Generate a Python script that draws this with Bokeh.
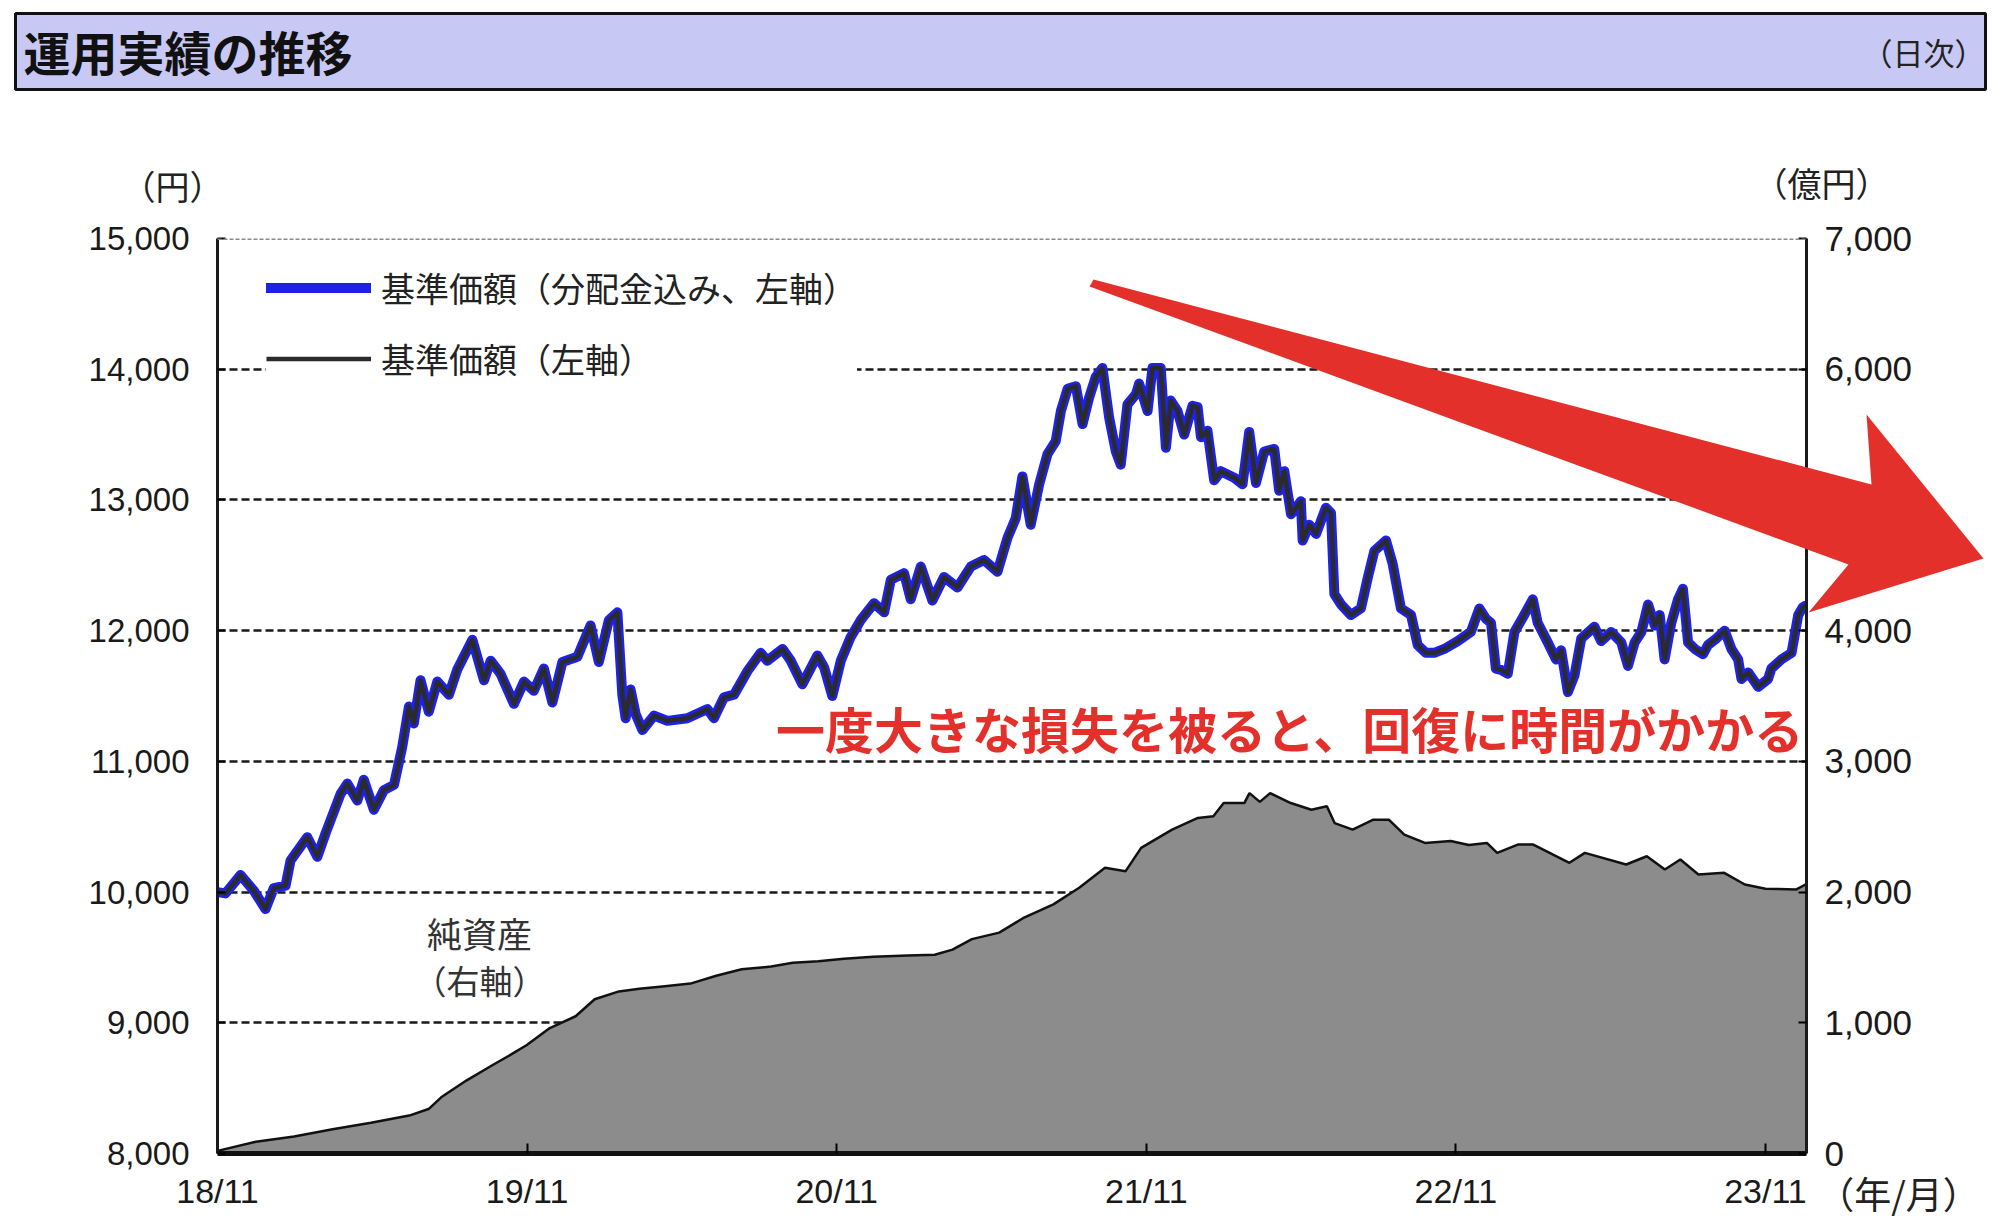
from bokeh.plotting import figure
from bokeh.models import (Range1d, LinearAxis, FixedTicker, NumeralTickFormatter, Legend,
                          LegendItem, Label, Span)
from bokeh.embed import file_html
from bokeh.resources import INLINE

# ---- data (x = months since 2018/11) ----
nav_month = [0.00, 0.31, 0.89, 1.41, 1.86, 2.18, 2.64, 2.83, 3.48, 3.87, 4.19, 4.77, 5.03, 5.42, 5.67,
             6.06, 6.45, 6.84, 7.16, 7.42, 7.61, 7.87, 8.19, 8.52, 8.97, 9.29, 9.88, 10.33, 10.59, 10.97,
             11.49, 11.88, 12.26, 12.65, 12.98, 13.37, 13.95, 14.46, 14.78, 15.17, 15.50, 15.69, 15.82,
             16.01, 16.21, 16.47, 16.92, 17.44, 18.21, 18.99, 19.24, 19.63, 20.02, 20.54, 21.05, 21.31,
             21.90, 22.22, 22.67, 23.25, 23.51, 23.83, 24.16, 24.54, 24.93, 25.45, 25.84, 26.10, 26.61,
             26.87, 27.26, 27.71, 28.16, 28.68, 29.20, 29.71, 30.23, 30.62, 30.94, 31.20, 31.52, 31.85,
             32.17, 32.49, 32.69, 32.95, 33.27, 33.53, 33.78, 34.04, 34.30, 34.56, 34.82, 35.01, 35.27,
             35.60, 35.72, 36.05, 36.24, 36.56, 36.76, 36.95, 37.21, 37.47, 37.79, 37.99, 38.12, 38.37,
             38.63, 38.89, 39.41, 39.73, 39.99, 40.25, 40.57, 40.96, 41.15, 41.35, 41.61, 41.99, 42.06,
             42.32, 42.58, 42.96, 43.16, 43.29, 43.55, 43.93, 44.32, 44.58, 44.84, 45.29, 45.55, 45.87,
             46.26, 46.52, 46.84, 47.16, 47.55, 48.07, 48.58, 48.91, 49.17, 49.36, 49.55, 49.75, 50.01,
             50.27, 50.65, 50.98, 51.17, 51.56, 51.88, 52.08, 52.34, 52.60, 52.86, 53.37, 53.63, 54.02,
             54.41, 54.67, 54.93, 55.19, 55.45, 55.71, 55.90, 56.09, 56.35, 56.61, 56.80, 57.00, 57.26,
             57.58, 57.77, 58.10, 58.42, 58.68, 58.94, 59.07, 59.33, 59.72, 60.10, 60.23, 60.62, 61.01,
             61.27, 61.45, 61.55]
nav_reinvested = [10000, 9990, 10130, 10010, 9870, 10030, 10050, 10240, 10420, 10270, 10450, 10750, 10830,
                  10700, 10860, 10630, 10780, 10820, 11110, 11420, 11290, 11620, 11380, 11610, 11510, 11700,
                  11930, 11620, 11770, 11670, 11440, 11610, 11540, 11710, 11450, 11760, 11800, 12040, 11760,
                  12080, 12140, 11510, 11330, 11550, 11360, 11240, 11350, 11310, 11330, 11400, 11330, 11490,
                  11510, 11690, 11830, 11770, 11860, 11770, 11590, 11810, 11720, 11500, 11770, 11950, 12080,
                  12210, 12140, 12390, 12440, 12240, 12490, 12230, 12410, 12330, 12490, 12540, 12450, 12710,
                  12860, 13180, 12810, 13120, 13350, 13450, 13680, 13850, 13870, 13580, 13780, 13940, 14010,
                  13630, 13370, 13270, 13730, 13810, 13890, 13680, 14010, 14010, 13400, 13760, 13680, 13500,
                  13720, 13710, 13480, 13530, 13150, 13220, 13170, 13120, 13520, 13130, 13370, 13390, 13070,
                  13220, 12890, 12990, 12690, 12810, 12740, 12940, 12900, 12280, 12200, 12120, 12170, 12400,
                  12610, 12690, 12510, 12170, 12120, 11890, 11830, 11830, 11860, 11920, 11990, 12170, 12090,
                  12060, 11710, 11700, 11670, 11990, 12120, 12240, 12060, 11910, 11780, 11850, 11530, 11660,
                  11940, 12030, 11920, 11990, 11910, 11730, 11910, 11990, 12200, 12040, 12120, 11780, 12060,
                  12240, 12320, 11910, 11860, 11820, 11890, 11940, 12000, 11860, 11780, 11630, 11680, 11570,
                  11630, 11710, 11780, 11830, 12120, 12180, 12190]
nav = list(nav_reinvested)  # no distributions paid: both series coincide

assets_month = [0.00, 1.49, 2.97, 4.46, 5.95, 7.43, 8.18, 8.67, 9.66, 10.65, 11.40, 11.99, 12.88, 13.88,
                14.62, 15.56, 16.35, 17.34, 18.33, 19.33, 20.32, 21.46, 22.30, 23.29, 24.28, 25.42, 26.76,
                27.80, 28.49, 29.24, 30.30, 31.22, 32.40, 33.40, 34.40, 35.20, 35.80, 37.00, 38.00, 38.60,
                39.00, 39.80, 40.00, 40.40, 40.80, 41.60, 42.40, 43.00, 43.30, 44.00, 44.80, 45.40, 46.00,
                46.80, 47.80, 48.50, 49.20, 49.60, 50.40, 51.00, 52.40, 53.00, 54.60, 55.40, 56.10, 56.70,
                57.40, 58.40, 59.20, 60.00, 61.20, 61.55]
assets_value = [20, 90, 130, 185, 235, 290, 340, 430, 560, 675, 760, 830, 960, 1050, 1180, 1240, 1260, 1280,
                1300, 1360, 1410, 1430, 1460, 1470, 1490, 1506, 1515, 1520, 1560, 1640, 1690, 1800, 1906,
                2033, 2186, 2160, 2338, 2478, 2567, 2580, 2681, 2681, 2757, 2690, 2757, 2681, 2630, 2656,
                2528, 2478, 2554, 2554, 2440, 2376, 2390, 2360, 2376, 2300, 2363, 2363, 2224, 2300, 2211,
                2274, 2173, 2249, 2135, 2147, 2058, 2025, 2020, 2058]

tick_months = [0, 12, 24, 36, 48, 60]
tick_labels = ["18/11", "19/11", "20/11", "21/11", "22/11", "23/11"]
left_ticks = [8000, 9000, 10000, 11000, 12000, 13000, 14000, 15000]
right_ticks = [0, 1000, 2000, 3000, 4000, 5000, 6000, 7000]
grid_ticks = [9000, 10000, 11000, 12000, 13000, 14000]

JP = "Noto Sans CJK JP"
NUM = "Liberation Sans"
RED = "#e3302b"

# ================= main chart =================
p = figure(width=2004, height=1232, output_backend="svg", toolbar_location=None,
           x_range=Range1d(0, 61.59), y_range=Range1d(8000, 15000),
           min_border_left=217, min_border_right=198, min_border_top=238, min_border_bottom=79)
p.outline_line_color = None
p.background_fill_color = "white"
p.border_fill_color = "white"
p.extra_y_ranges = {"assets": Range1d(0, 7000)}

p.xgrid.visible = False
p.ygrid.ticker = FixedTicker(ticks=grid_ticks)
p.ygrid.grid_line_color = "#1a1a1a"
p.ygrid.grid_line_dash = "8 4"
p.ygrid.grid_line_width = 2.5
p.add_layout(Span(location=15000, dimension="width", line_color="#8a8a8a", line_dash="4 2", line_width=3))

ya = p.yaxis[0]
ya.ticker = FixedTicker(ticks=left_ticks)
ya.formatter = NumeralTickFormatter(format="0,0")
ra = LinearAxis(y_range_name="assets", ticker=FixedTicker(ticks=right_ticks),
                formatter=NumeralTickFormatter(format="0,0"))
p.add_layout(ra, "right")
xa = p.xaxis[0]
xa.ticker = FixedTicker(ticks=tick_months)
xa.major_label_overrides = dict(zip(tick_months, tick_labels))

for ax in (ya, ra):
    ax.axis_line_color = "#1a1a1a"
    ax.axis_line_width = 3
    ax.major_tick_in = 8
    ax.major_tick_out = 0
    ax.major_tick_line_width = 2
    ax.minor_tick_line_color = None
    ax.major_label_text_font = NUM
    ax.major_label_text_color = "#1a1a1a"
ya.major_label_text_font_size = "33px"
ya.major_label_standoff = 28
ra.major_label_text_font_size = "35px"
ra.major_label_standoff = 18
xa.axis_line_color = "#111111"
xa.axis_line_width = 5
xa.major_tick_in = 10
xa.major_tick_out = 0
xa.major_tick_line_width = 2
xa.minor_tick_line_color = None
xa.major_label_text_font = NUM
xa.major_label_text_font_size = "34px"
xa.major_label_text_color = "#1a1a1a"
xa.major_label_standoff = 18

# net assets area (right axis)
p.varea(x=assets_month, y1=[0] * len(assets_value), y2=assets_value, fill_color="#8c8c8c",
        y_range_name="assets")
p.line(assets_month, assets_value, line_color="#111111", line_width=2.5, y_range_name="assets")

# NAV lines (left axis)
r_blue = p.line(nav_month, nav_reinvested, line_color="#1e22e6", line_width=10, line_join="round",
                line_cap="round")
r_black = p.line(nav_month, nav, line_color="#2b2b2b", line_width=4.5, line_join="round")

legend = Legend(items=[LegendItem(label="基準価額（分配金込み、左軸）", renderers=[r_blue]),
                       LegendItem(label="基準価額（左軸）", renderers=[r_black])],
                location=(49, 770), orientation="vertical")
legend.label_text_font = JP
legend.label_text_font_size = "34px"
legend.label_text_color = "#222222"
legend.glyph_width = 105
legend.glyph_height = 45
legend.label_height = 45
legend.label_standoff = 10
legend.spacing = 22
legend.padding = 10
legend.margin = 0
legend.border_line_color = None
legend.background_fill_color = "white"
legend.background_fill_alpha = 1
p.add_layout(legend)

p.add_layout(Label(x=10.16, y=9690, text="純資産", text_font=JP, text_font_size="35px",
                   text_baseline="middle", text_align="center", text_color="#333333"))
p.add_layout(Label(x=10.16, y=9324, text="（右軸）", text_font=JP, text_font_size="33px",
                   text_baseline="middle", text_align="center", text_color="#333333"))
p.add_layout(Label(x=61.46, y=11262, text="一度大きな損失を被ると、回復に時間がかかる", text_font=JP,
                   text_font_style="bold", text_font_size="49px", text_baseline="middle",
                   text_align="right", text_color=RED))

# ================= overlay (page pixels) for items outside the plot frame =================
ov = figure(width=2004, height=1232, output_backend="svg", toolbar_location=None,
            x_range=Range1d(0, 2004), y_range=Range1d(1232, 0), min_border=0,
            x_axis_location=None, y_axis_location=None)
ov.outline_line_color = None
ov.background_fill_alpha = 0
ov.border_fill_alpha = 0
for g in ov.grid:
    g.visible = False
ov.styles = {"position": "absolute", "left": "0px", "top": "0px"}

# header band
ov.quad(left=[15], right=[1985], top=[13], bottom=[89], fill_color="#c8c8f5", line_color="#111111",
        line_width=3)
ov.add_layout(Label(x=23, y=50, text="運用実績の推移", text_font=JP, text_font_style="bold",
                    text_font_size="47px", text_baseline="middle", text_align="left", text_color="#111111"))
ov.add_layout(Label(x=1985, y=51, text="（日次）", text_font=JP, text_font_size="31px",
                    text_baseline="middle", text_align="right", text_color="#222222"))

# unit labels
ov.add_layout(Label(x=172, y=185, text="（円）", text_font=JP, text_font_size="34px",
                    text_baseline="middle", text_align="center", text_color="#222222"))
ov.add_layout(Label(x=1821, y=182, text="（億円）", text_font=JP, text_font_size="34px",
                    text_baseline="middle", text_align="center", text_color="#222222"))
ov.add_layout(Label(x=1898, y=1192, text="（年/月）", text_font=JP, text_font_size="37px",
                    text_baseline="middle", text_align="center", text_color="#222222"))

# red arrow
arrow_px_x = [1089, 1093, 1871, 1866, 1983, 1808, 1848]
arrow_px_y = [286, 279, 484, 414, 558, 612, 564]
ov.patch(arrow_px_x, arrow_px_y, fill_color=RED, line_color=None)

open("out.html", "w").write(file_html([p, ov], INLINE))
